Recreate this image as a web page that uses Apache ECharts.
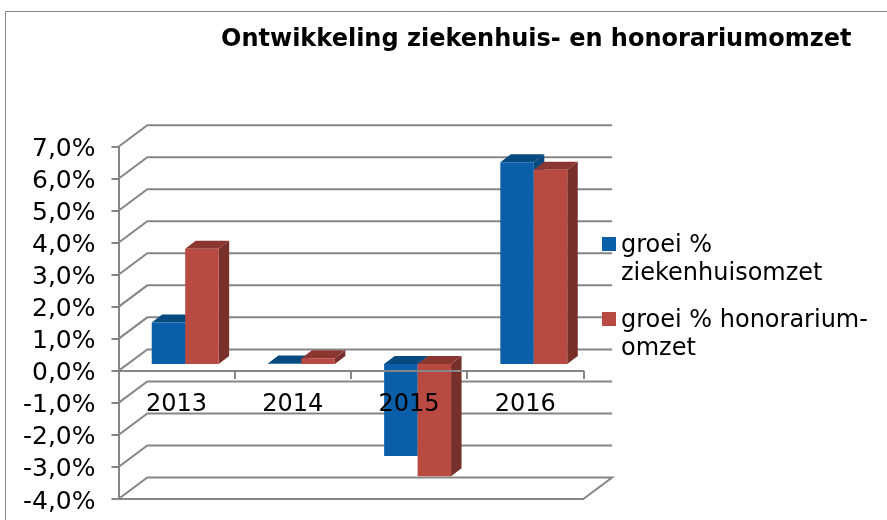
<!DOCTYPE html>
<html>
<head>
<meta charset="utf-8">
<style>html,body{margin:0;padding:0;background:#fff}#chart{width:887px;height:520px}</style>
<script src="https://cdn.jsdelivr.net/npm/echarts@6/dist/echarts.min.js"></script>
</head>
<body>
<div id="chart"></div>
<script>
const years = ['2013', '2014', '2015', '2016'];
const ziekenhuis = [1.3, 0.02, -2.87, 6.3];
const honorarium = [3.6, 0.18, -3.5, 6.07];
const yTicks = [-4, -3, -2, -1, 0, 1, 2, 3, 4, 5, 6, 7];

const font = '"DejaVu Sans", sans-serif';
// schuine "3D" verschuiving van de achterwand en van de balken
const wallDx = 28.8, wallDy = -21.5;
const barOffDx = 8.6, barOffDy = -6.8;
const barDx = 10.5, barDy = -8;
const barShare = 0.288;

function wallItem(params, api) {
    const v = api.value(1);
    const rect = params.coordSys;
    const y = api.coord([0, v])[1];
    const x0 = rect.x, x1 = rect.x + rect.width;
    const style = { stroke: '#868686', lineWidth: 2, fill: null };
    const pts = [[x0, y], [x0 + wallDx, y + wallDy], [x1 + wallDx, y + wallDy]];
    if (v === yTicks[0]) {
        pts.push([x1, y], [x0, y]);
    }
    return { type: 'polyline', shape: { points: pts }, style: style };
}

function barItem(seriesIdx, front, top, side) {
    return function (params, api) {
        const idx = api.value(0);
        const band = api.size([1, 0])[0];
        const w = band * barShare;
        const c = api.coord([idx, api.value(1)]);
        const zero = api.coord([idx, 0]);
        const left = zero[0] + barOffDx - w + seriesIdx * w;
        const right = left + w;
        const y1 = Math.min(c[1], zero[1]) + barOffDy;
        const y2 = Math.max(c[1], zero[1]) + barOffDy;
        return {
            type: 'group',
            children: [
                { type: 'polygon', shape: { points: [[right, y1], [right + barDx, y1 + barDy], [right + barDx, y2 + barDy], [right, y2]] }, style: { fill: side } },
                { type: 'polygon', shape: { points: [[left, y1], [left + barDx, y1 + barDy], [right + barDx, y1 + barDy], [right, y1]] }, style: { fill: top } },
                { type: 'rect', shape: { x: left, y: y1, width: w, height: y2 - y1 }, style: { fill: front } }
            ]
        };
    };
}

// legenda-icoon: blokje bij de eerste tekstregel
const legendIcon = 'path://M0,0L0,0M0,5H14V19H0ZM14,56L14,56';

const option = {
    animation: false,
    backgroundColor: '#fff',
    title: {
        text: 'Ontwikkeling ziekenhuis- en honorariumomzet',
        left: 221,
        top: 28,
        padding: 0,
        textStyle: { fontFamily: font, fontSize: 24, fontWeight: 'bold', color: '#000' }
    },
    legend: {
        orient: 'vertical',
        left: 602,
        top: 232,
        padding: 0,
        itemWidth: 14,
        itemHeight: 56,
        itemGap: 19,
        icon: legendIcon,
        data: ['groei %\nziekenhuisomzet', 'groei % honorarium-\nomzet'],
        textStyle: { fontFamily: font, fontSize: 24, color: '#000', lineHeight: 28 }
    },
    graphic: [{
        type: 'rect',
        shape: { x: 5.5, y: 11.5, width: 1000, height: 600 },
        style: { fill: null, stroke: '#868686', lineWidth: 1 },
        silent: true
    }],
    grid: { left: 118.5, top: 146.7, width: 464.8, height: 352.3, outerBoundsMode: 'none' },
    xAxis: {
        type: 'category',
        data: years,
        z: 5,
        axisLine: { show: true, lineStyle: { color: '#868686', width: 2 } },
        axisTick: { show: true, length: 8, lineStyle: { color: '#868686', width: 2 } },
        axisLabel: { fontFamily: font, fontSize: 24, color: '#000', margin: -106 }
    },
    yAxis: {
        type: 'value',
        min: -4,
        max: 7,
        interval: 1,
        z: 5,
        splitLine: { show: false },
        axisLine: { show: true, onZero: false, lineStyle: { color: '#868686', width: 2 } },
        axisTick: { show: true, length: 7, lineStyle: { color: '#868686', width: 2 } },
        axisLabel: {
            fontFamily: font, fontSize: 25, color: '#000', margin: 23,
            rich: { v: { fontFamily: font, fontSize: 25, color: '#000', padding: [6, 0, 0, 0] } },
            formatter: (v) => '{v|' + v.toFixed(1).replace('.', ',') + '%}'
        }
    },
    series: [
        {
            type: 'custom',
            silent: true,
            z: 1,
            clip: false,
            renderItem: wallItem,
            encode: { x: 0, y: 1 },
            data: yTicks.map((v) => [0, v])
        },
        {
            name: 'groei %\nziekenhuisomzet',
            type: 'custom',
            z: 2,
            clip: false,
            itemStyle: { color: '#0B5EA8' },
            renderItem: barItem(0, '#0B5EA8', '#074A7F', '#074A7F'),
            encode: { x: 0, y: 1 },
            data: ziekenhuis.map((v, i) => [i, v])
        },
        {
            name: 'groei % honorarium-\nomzet',
            type: 'custom',
            z: 3,
            clip: false,
            itemStyle: { color: '#B94A42' },
            renderItem: barItem(1, '#B94A42', '#8C3632', '#78302B'),
            encode: { x: 0, y: 1 },
            data: honorarium.map((v, i) => [i, v])
        }
    ]
};

const chart = echarts.init(document.getElementById('chart'));
chart.setOption(option);
</script>
</body>
</html>
